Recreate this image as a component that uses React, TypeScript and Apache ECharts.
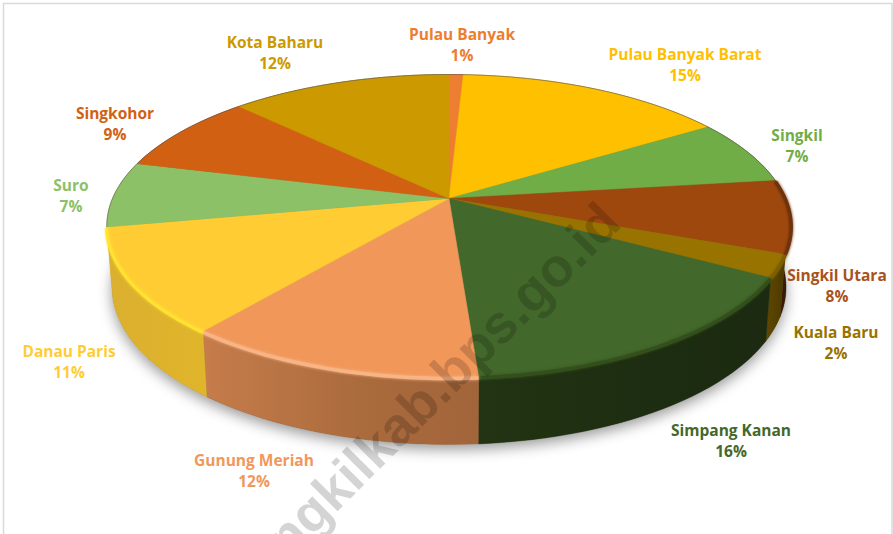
import React, { useEffect, useRef } from "react";
import * as echarts from "echarts";

const names = ["Pulau Banyak", "Pulau Banyak Barat", "Singkil", "Singkil Utara", "Kuala Baru", "Simpang Kanan", "Gunung Meriah", "Danau Paris", "Suro", "Singkohor", "Kota Baharu"];
const values = [0.8, 15.2, 7, 7.8, 2.4, 15.65, 11.95, 11.2, 7, 8.55, 12.45];
const faceColors = ["#ED7D31", "#FFC000", "#70AD47", "#9E480E", "#997300", "#43682B", "#F1975A", "#FFCD33", "#8CC168", "#D26012", "#CC9A00"];
const labelColors = ["#ED7D31", "#FFC000", "#70AD47", "#A9521B", "#997300", "#43682B", "#F1975A", "#FFCD33", "#8CC168", "#D26012", "#CC9A00"];
const sideStart = ["#8a4a1c", "#8a6a00", "#3f6326", "#4a2206", "#5f4800", "#223413", "#C67C4B", "#DBB030", "#DBB030", "#7e3a0b", "#7a5c00"];
const sideMid = ["#8a4a1c", "#8a6a00", "#3f6326", "#3a1a04", "#533f00", "#1D2D11", "#A96A3C", "#DFB22C", "#DBB030", "#7e3a0b", "#7a5c00"];
const sideEnd = ["#8a4a1c", "#8a6a00", "#3f6326", "#2e1503", "#4a3800", "#1B2A10", "#A2653A", "#E0B52A", "#DBB030", "#7e3a0b", "#7a5c00"];
const bevelColors = ["", "", "", "#6e3208", "#7d5e00", "#33501c", "#F8B484", "#FFE233", "", "", ""];
const labelCenters = [[462, 44], [685, 64], [797, 145], [837, 285], [836, 342], [731, 440], [254, 470], [69, 361], [71, 195], [115, 123], [275, 52]];

const CX = 449, CY = 198.5, A = 336.5, B = 146.5, P = 0.1815;
const total = values.reduce((a, b) => a + b, 0);

function angles(i: number) {
  let s = 0;
  for (let k = 0; k < i; k++) s += values[k];
  return [(s / total) * 2 * Math.PI, ((s + values[i]) / total) * 2 * Math.PI];
}
function top(t: number) {
  const u = Math.sin(t), v = -Math.cos(t), w = 1 - P * v;
  return [CX + (A * u) / w, CY + (B * v) / w];
}
function bottom(t: number) {
  const p = top(t), v = -Math.cos(t);
  return [CX + 0.985 * (p[0] - CX), p[1] + 60 + 7 * v];
}
function arc(f: (t: number) => number[], a: number, b: number) {
  const n = Math.max(4, Math.ceil(((b - a) * 180) / Math.PI / 2));
  const pts: number[][] = [];
  for (let i = 0; i <= n; i++) pts.push(f(a + ((b - a) * i) / n));
  return pts;
}

export default function App() {
  const ref = useRef<HTMLDivElement>(null);
  useEffect(() => {
    const chart = echarts.init(ref.current!, undefined, { renderer: "svg" });
    const rows = values.map((v) => [v]);
    chart.setOption({
      animation: false,
      backgroundColor: "#fff",
      graphic: {
        z: 100,
        elements: [
          { type: "rect", z: 1, shape: { x: 3.5, y: 3.5, width: 888.5, height: 540 }, style: { fill: "none", stroke: "#D9D9D9", lineWidth: 1.5 }, silent: true },
          {
            type: "text", z: 100, silent: true, x: 610, y: 212, rotation: Math.PI / 4,
            style: { text: "ngkilkab.bps.go.id", align: "right", verticalAlign: "middle", font: "bold 54px 'Liberation Sans'", fill: "rgba(0,0,0,0.17)" },
          },
        ],
      },
      series: [
        {
          type: "custom", coordinateSystem: "none", z: 2, silent: true, data: [[total]],
          renderItem: () => ({
            type: "polygon",
            shape: { points: arc(bottom, 0, 2 * Math.PI) },
            style: { fill: "#777", shadowBlur: 14, shadowOffsetY: 5, shadowColor: "rgba(0,0,0,0.4)" },
          }),
        },
        {
          type: "custom", coordinateSystem: "none", z: 3, silent: true, data: rows,
          renderItem: (p: any) => {
            const i = p.dataIndex;
            const [a, b] = angles(i);
            const pts = arc(top, a, b).concat(arc(bottom, a, b).reverse());
            return {
              type: "polygon", shape: { points: pts },
              style: {
                fill: { type: "linear", x: 0, y: 0, x2: 1, y2: 0, colorStops: [{ offset: 0, color: sideStart[i] }, { offset: 0.6, color: sideMid[i] }, { offset: 1, color: sideEnd[i] }] },
                stroke: sideMid[i], lineWidth: 0.4,
              },
            };
          },
        },
        {
          type: "custom", coordinateSystem: "none", z: 4, silent: true, data: rows,
          renderItem: (p: any) => {
            const i = p.dataIndex;
            const [a, b] = angles(i);
            return {
              type: "polygon", shape: { points: [[CX, CY] as number[]].concat(arc(top, a, b)) },
              style: { fill: faceColors[i], stroke: faceColors[i], lineWidth: 0.5 },
            };
          },
        },
        {
          type: "custom", coordinateSystem: "none", z: 5, silent: true, data: rows,
          renderItem: (p: any) => {
            const i = p.dataIndex;
            const [a, b] = angles(i);
            const c = bevelColors[i];
            const back = { type: "polyline", shape: { points: arc(top, a, b) }, style: { fill: "none", stroke: "rgba(90,90,90,0.55)", lineWidth: 1 } };
            if (!c) return back;
            return {
              type: "polyline",
              shape: { points: arc((t) => { const q = top(t); return [q[0], q[1] + 1]; }, a, b) },
              style: { fill: "none", stroke: c, lineWidth: i === 7 ? 3 : 3.5, lineCap: "butt", shadowBlur: 3, shadowColor: c },
            };
          },
        },
        {
          type: "custom", coordinateSystem: "none", z: 6, silent: true, data: rows,
          renderItem: (p: any, api: any) => {
            const i = p.dataIndex;
            const v = Math.round(api.value(0));
            return {
              type: "text", x: labelCenters[i][0], y: labelCenters[i][1],
              style: {
                text: `${names[i]}\n${v}%`, align: "center", verticalAlign: "middle",
                font: "bold 15.5px 'Open Sans'", lineHeight: 21, fill: labelColors[i],
              },
            };
          },
        },
      ],
    });
    return () => chart.dispose();
  }, []);
  return <div ref={ref} style={{ position: "fixed", left: 0, top: 0, width: 893, height: 534 }} />;
}
